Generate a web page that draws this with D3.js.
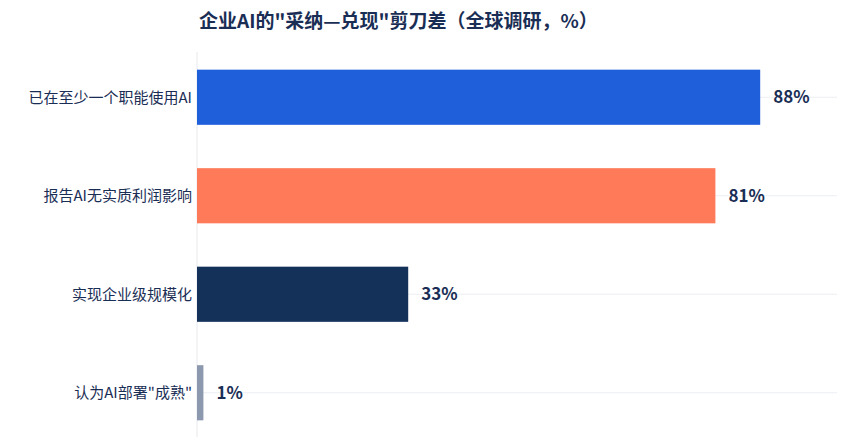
<!DOCTYPE html>
<html><head><meta charset="utf-8">
<script src="https://cdn.jsdelivr.net/npm/d3@7"></script>
<style>body{margin:0;background:#fff}svg{display:block}</style>
</head><body><div id="chart"></div>
<script>
// chart data
var categories = ["已在至少一个职能使用AI", "报告AI无实质利润影响", "实现企业级规模化", "认为AI部署\"成熟\""];
var values = [88, 81, 33, 1];
var colors = ["#1f5fd9", "#ff7a59", "#133159", "#8c98ad"];

var W = 846, H = 447;
var svg = d3.select("#chart").append("svg").attr("width", W).attr("height", H);
var font = "'Noto Sans CJK SC','Noto Sans',sans-serif";

//title
svg.append("text").attr("x", 199).attr("y", 28)
  .style("font-family", font).style("font-size", "19px").style("font-weight", "bold")
  .style("fill", "#1a2e55")
  .text("企业AI的\"采纳—兑现\"剪刀差（全球调研，%）");

var x = d3.scaleLinear().domain([0, 100]).range([197, 837]);
var y = d3.scaleBand().domain(categories).range([48, 442]).paddingInner(0.44).paddingOuter(0.22);

//grid lines at band centers
svg.selectAll(".grid").data(categories).enter().append("line")
  .attr("x1", x(0)).attr("x2", x(100))
  .attr("y1", function (d) { return y(d) + y.bandwidth() / 2; })
  .attr("y2", function (d) { return y(d) + y.bandwidth() / 2; })
  .style("stroke", "#eceef2").style("stroke-width", 1);

//axis line
svg.append("line").attr("x1", x(0)).attr("x2", x(0)).attr("y1", 52).attr("y2", 437)
  .style("stroke", "#e6e8ec");

svg.selectAll(".bar").data(values).enter().append("rect")
  .attr("x", x(0))
  .attr("y", function (d, i) { return y(categories[i]); })
  .attr("width", function (d) { return x(d) - x(0); })
  .attr("height", y.bandwidth())
  .style("fill", function (d, i) { return colors[i]; });

//category labels
svg.selectAll(".lab").data(categories).enter().append("text")
  .attr("x", x(0) - 5)
  .attr("y", function (d) { return y(d) + y.bandwidth() / 2; })
  .attr("dy", "0.35em").attr("text-anchor", "end")
  .style("font-family", font).style("font-size", "15px").style("fill", "#1a2e55")
  .text(function (d) { return d; });

//value labels
svg.selectAll(".val").data(values).enter().append("text")
  .attr("x", function (d) { return x(d) + 13; })
  .attr("y", function (d, i) { return y(categories[i]) + y.bandwidth() / 2; })
  .attr("dy", "0.35em")
  .style("font-family", font).style("font-size", "17px").style("font-weight", "bold")
  .style("fill", "#1a2e55")
  .text(function (d) { return d + "%"; });
</script></body></html>
